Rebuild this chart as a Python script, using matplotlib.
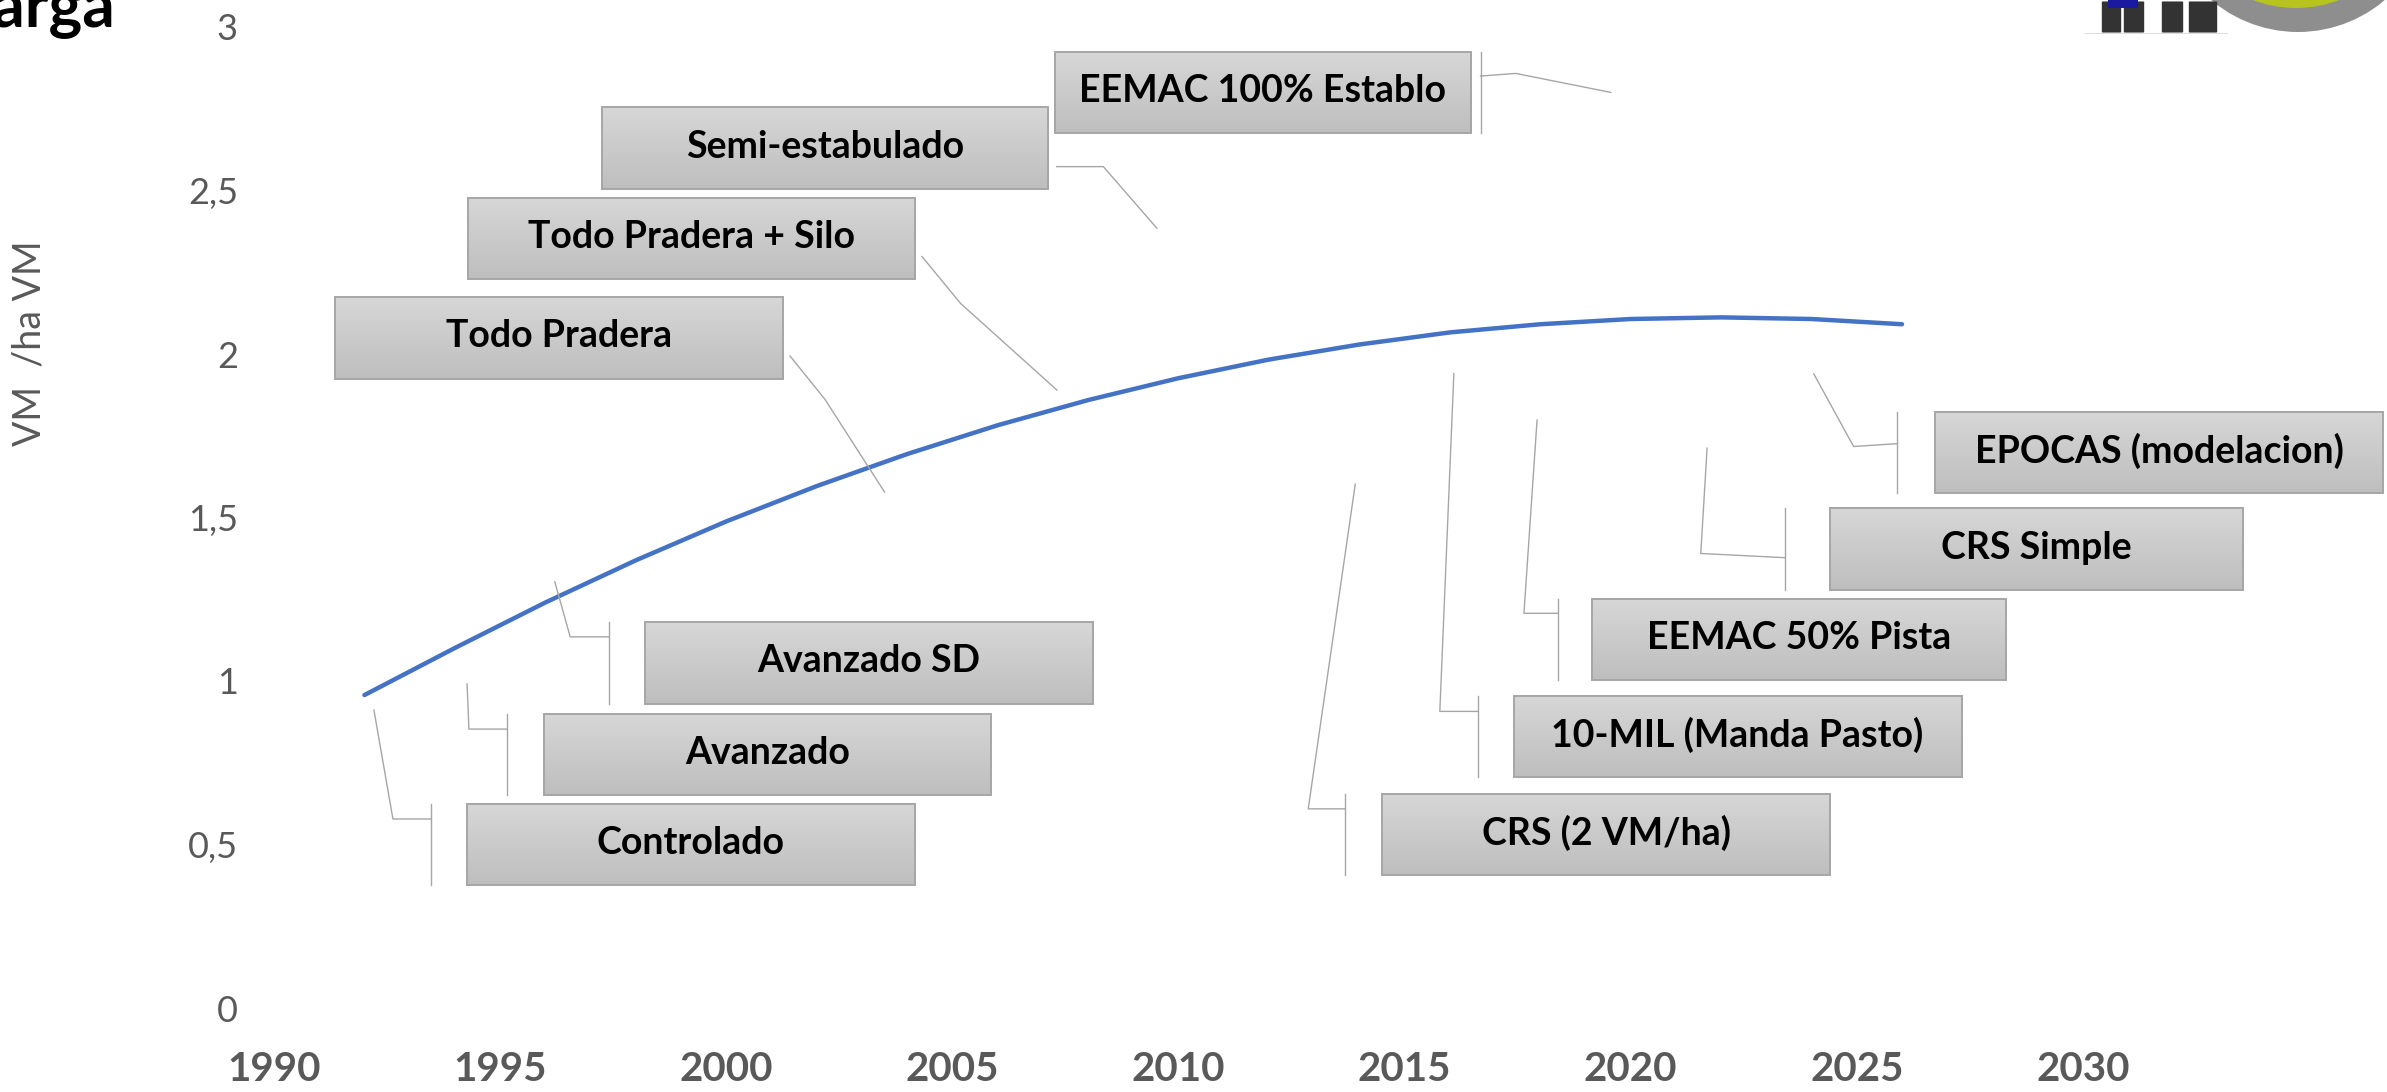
import matplotlib
matplotlib.use("Agg")
import matplotlib.pyplot as plt
import numpy as np
from matplotlib.patches import Rectangle, Ellipse, FancyBboxPatch

# ---------------- data ----------------
years = [1992, 1994, 1996, 1998, 2000, 2002, 2004, 2006, 2008, 2010,
         2012, 2014, 2016, 2018, 2020, 2022, 2024, 2026]
carga = [0.957, 1.101, 1.240, 1.369, 1.488, 1.596, 1.694, 1.782, 1.859, 1.926,
         1.983, 2.029, 2.066, 2.091, 2.107, 2.112, 2.107, 2.091]

x_ticks = [1990, 1995, 2000, 2005, 2010, 2015, 2020, 2025, 2030]
y_ticks = [0, 0.5, 1, 1.5, 2, 2.5, 3]
y_ticklabels = ["0", "0,5", "1", "1,5", "2", "2,5", "3"]

labels = ["Controlado", "Avanzado", "Avanzado SD", "Todo Pradera",
          "Todo Pradera + Silo", "Semi-estabulado", "EEMAC 100% Establo",
          "CRS (2 VM/ha)", "10-MIL (Manda Pasto)", "EEMAC 50% Pista",
          "CRS Simple", "EPOCAS (modelacion)"]

# callout layout (data coords): box x0, x1, y_bottom, y_top
box_x0 = [1994.27, 1995.97, 1998.20, 1991.34, 1994.29, 1997.25, 2007.26,
          2014.50, 2017.41, 2019.15, 2024.40, 2026.74]
box_x1 = [2004.17, 2005.85, 2008.11, 2001.25, 2004.18, 2007.12, 2016.46,
          2024.41, 2027.32, 2028.31, 2033.55, 2036.64]
box_yb = [0.376, 0.651, 0.930, 1.924, 2.228, 2.505, 2.677,
          0.407, 0.706, 1.004, 1.277, 1.576]
box_yt = [0.624, 0.899, 1.180, 2.174, 2.477, 2.754, 2.924,
          0.655, 0.954, 1.252, 1.528, 1.824]
# leader polylines
leaders = [
    [(1992.21, 0.911), (1992.63, 0.578), (1993.47, 0.578)],
    [(1994.27, 0.991), (1994.31, 0.853), (1995.15, 0.853)],
    [(1996.21, 1.303), (1996.55, 1.135), (1997.41, 1.135)],
    [(2001.41, 1.994), (2002.18, 1.862), (2003.50, 1.578)],
    [(2004.33, 2.298), (2005.18, 2.155), (2007.31, 1.890)],
    [(2007.31, 2.573), (2008.34, 2.573), (2009.52, 2.385)],
    [(2016.68, 2.850), (2017.46, 2.858), (2019.56, 2.800)],
    [(2013.91, 1.602), (2012.87, 0.609), (2013.68, 0.609)],
    [(2016.09, 1.940), (2015.78, 0.907), (2016.63, 0.907)],
    [(2017.93, 1.798), (2017.64, 1.207), (2018.39, 1.207)],
    [(2021.69, 1.712), (2021.55, 1.390), (2023.42, 1.377)],
    [(2024.05, 1.939), (2024.93, 1.717), (2025.90, 1.726)],
]
# vertical bracket x (None = no bracket)
bracket_x = [1993.47, 1995.15, 1997.41, None, None, None, 2016.68,
             2013.68, 2016.63, 2018.39, 2023.42, 2025.90]

# ---------------- figure ----------------
W, H = 2387, 1092
fig = plt.figure(figsize=(W / 100, H / 100), dpi=100)
fig.patch.set_facecolor("white")

ax_left, ax_right = 274, 2309
ax_top, ax_bot = 27, 1008
ax = fig.add_axes([ax_left / W, 1 - ax_bot / H, (ax_right - ax_left) / W, (ax_bot - ax_top) / H])
ax.set_xlim(1990, 2035)
ax.set_ylim(0, 3)
for s in ax.spines.values():
    s.set_visible(False)

ax.set_xticks(x_ticks)
ax.set_xticklabels([str(v) for v in x_ticks], family="Lato", fontweight="bold",
                   fontsize=29, color="#595959")
ax.set_yticks(y_ticks)
ax.set_yticklabels(y_ticklabels, family="Lato", fontsize=26, color="#595959")
ax.tick_params(axis="x", length=0, pad=31)
ax.tick_params(axis="y", length=0, pad=26)

# curve
ax.plot(years, carga, color="#4472C4", lw=3.2, solid_capstyle="round", zorder=2)

# callouts
lc = "#a6a6a6"
grad = np.linspace(0, 1, 256).reshape(-1, 1)
top_c = np.array([0.843, 0.843, 0.843])
bot_c = np.array([0.745, 0.745, 0.745])
img = top_c[None, None, :] * (1 - grad[:, :, None]) + bot_c[None, None, :] * grad[:, :, None]

for i, lab in enumerate(labels):
    x0, x1, yb, yt = box_x0[i], box_x1[i], box_yb[i], box_yt[i]
    im = ax.imshow(img, extent=[x0, x1, yb, yt], aspect="auto", origin="upper",
                   zorder=4, interpolation="bilinear")
    im.set_clip_on(False)
    ax.add_patch(Rectangle((x0, yb), x1 - x0, yt - yb, fill=False, ec=lc, lw=1.4,
                           zorder=5, clip_on=False))
    ax.text((x0 + x1) / 2, (yb + yt) / 2 + 0.005, lab, ha="center", va="center",
            family="Lato", fontweight="bold", fontsize=27, color="black",
            zorder=6, clip_on=False)
    pts = leaders[i]
    ax.plot([p[0] for p in pts], [p[1] for p in pts], color=lc, lw=1.0,
            zorder=3, clip_on=False)
    if bracket_x[i] is not None:
        ax.plot([bracket_x[i], bracket_x[i]], [yb, yt], color=lc, lw=1.0,
                zorder=3, clip_on=False)

# y label
fig.text(30 / W, 1 - 343 / H, "VM  /ha VM", rotation=90, ha="center", va="center",
         family="Lato", fontsize=27, color="#595959")

# partial title at top-left
fig.text(115 / W, 1 - 27 / H, "Carga", ha="right", va="baseline",
         family="Lato", fontweight="bold", fontsize=46, color="black")

# logo fragment at top-right (figure pixel coords)
def fpx(x, y):
    return (x / W, 1 - y / H)

fig.patches.append(Ellipse(fpx(2298, -102), 2 * 134 / W, 2 * 134 / H,
                           transform=fig.transFigure, fc="#8e8e8e", ec="none"))
fig.patches.append(Ellipse(fpx(2296, -112), 2 * 120 / W, 2 * 120 / H,
                           transform=fig.transFigure, fc="#b8c41e", ec="none"))
# boots
for bx0, bx1 in [(2103, 2120), (2125, 2143), (2163, 2182), (2190, 2216)]:
    fig.patches.append(FancyBboxPatch(fpx(bx0, 32), (bx1 - bx0) / W, 30 / H,
                                      boxstyle="round,pad=0.0005", transform=fig.transFigure,
                                      fc="#333333", ec="none"))
fig.patches.append(Rectangle(fpx(2108, 8), 30 / W, 8 / H, transform=fig.transFigure,
                             fc="#1a1aa0", ec="none"))
fig.patches.append(Rectangle(fpx(2085, 34), 143 / W, 1.5 / H, transform=fig.transFigure,
                             fc="#dddddd", ec="none"))

fig.savefig("out.png", dpi=100)
